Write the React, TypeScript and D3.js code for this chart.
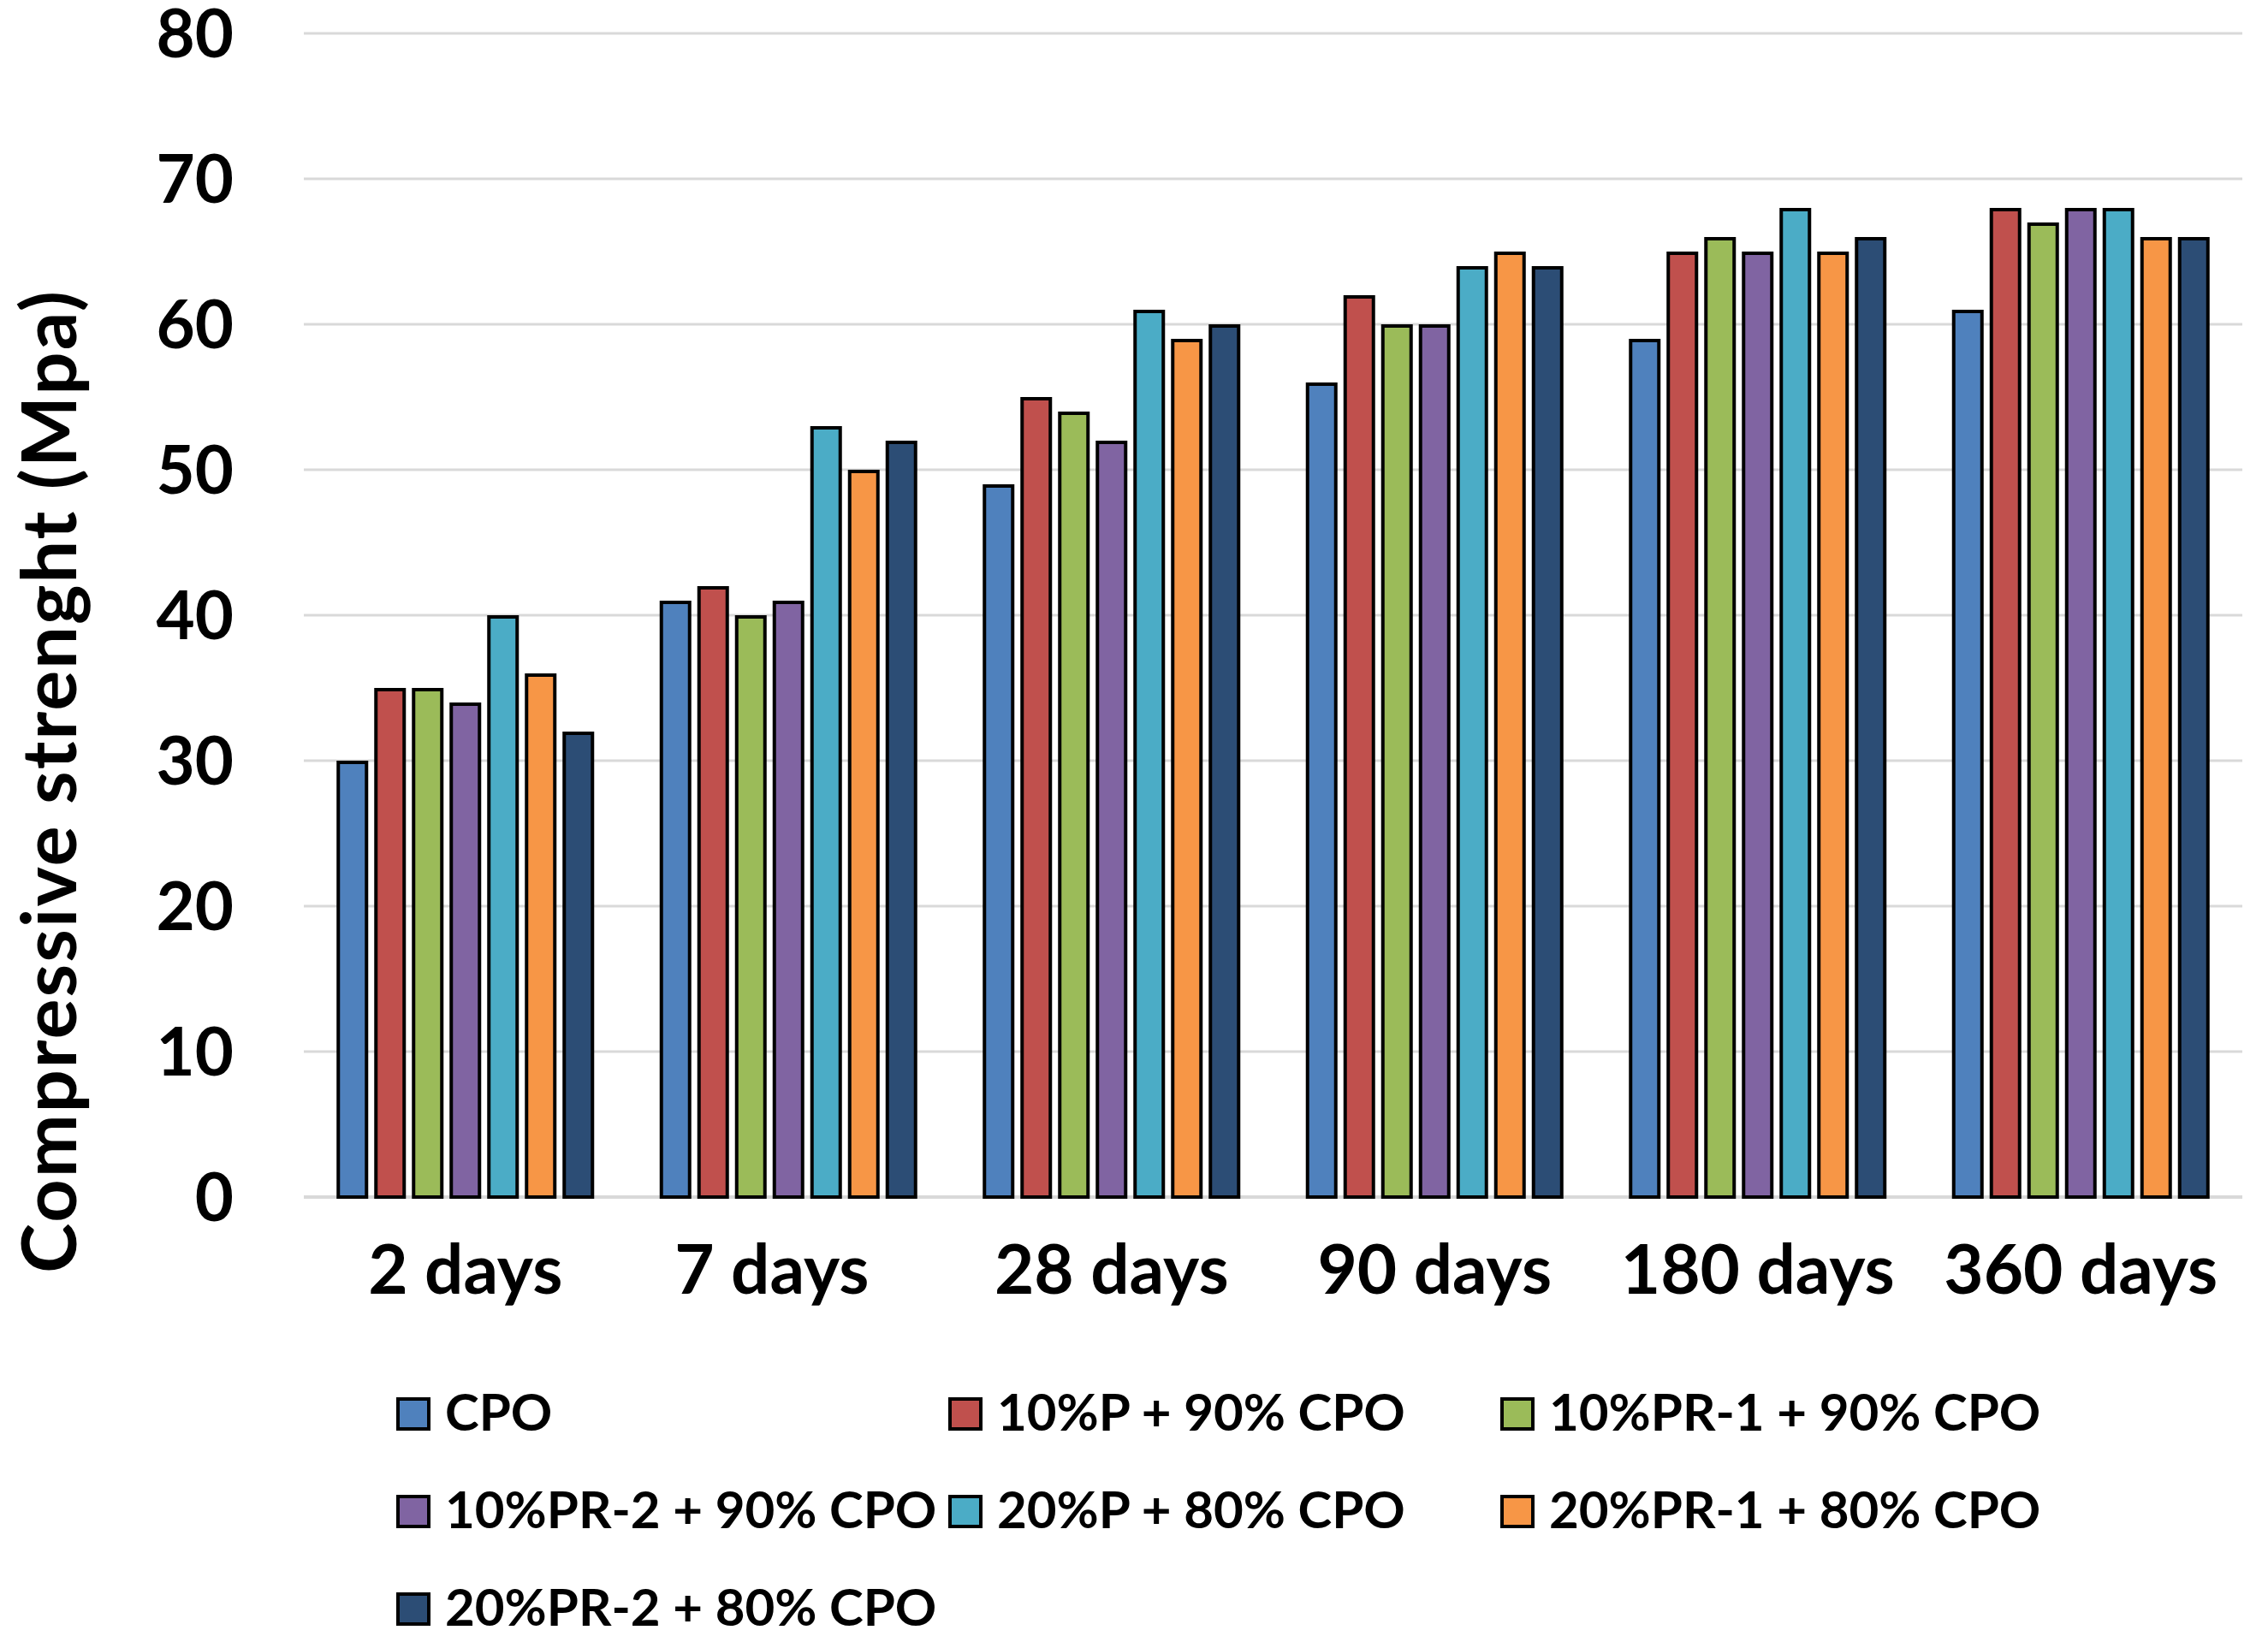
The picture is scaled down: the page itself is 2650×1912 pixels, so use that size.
import * as d3 from "d3";

// ages of the specimens
const days = ["2 days", "7 days", "28 days", "90 days", "180 days", "360 days"];
// axis labels as typed in the sheet (the 7-day one carries trailing spaces)
const dayLabels = ["2 days", "7 days\u00A0\u00A0", "28 days", "90 days", "180 days", "360 days"];

// mixes, in legend order
const mixes = [
  "CPO",
  "10%P + 90% CPO",
  "10%PR-1 + 90% CPO",
  "10%PR-2 + 90% CPO",
  "20%P + 80% CPO",
  "20%PR-1 + 80% CPO",
  "20%PR-2 + 80% CPO",
];

// compressive strength (MPa), one array per mix, values per age
const cpo = [30, 41, 49, 56, 59, 61];
const p10 = [35, 42, 55, 62, 65, 68];
const pr1_10 = [35, 40, 54, 60, 66, 67];
const pr2_10 = [34, 41, 52, 60, 65, 68];
const p20 = [40, 53, 61, 64, 68, 68];
const pr1_20 = [36, 50, 59, 65, 65, 66];
const pr2_20 = [32, 52, 60, 64, 66, 66];

const yTicks = [0, 10, 20, 30, 40, 50, 60, 70, 80];

const colors = ["#4F81BD", "#C0504D", "#9BBB59", "#8064A2", "#4BACC6", "#F79646", "#2C4D75"];

const W = 2650;
const H = 1912;
const FONT = "Lato, 'Open Sans', sans-serif";

export default function App() {
  const series = [cpo, p10, pr1_10, pr2_10, p20, pr1_20, pr2_20];

  const x = d3.scaleBand().domain(days).range([355, 2620]).padding(0);
  const y = d3.scaleLinear().domain([0, 80]).range([1399, 39]);

  // bars inside a group: 44px step, centered in the band
  const groupW = 44 * mixes.length;
  const inner = d3
    .scaleBand()
    .domain(mixes)
    .range([(x.bandwidth() - groupW) / 2, (x.bandwidth() + groupW) / 2])
    .paddingInner(7 / 44)
    .paddingOuter(3.5 / 44);

  const stroke = 4;

  // legend grid (3 columns)
  const legendCols = [463, 1108, 1753];
  const legendRows = [1672, 1786, 1900];

  return (
    <svg
      width={W}
      height={H}
      style={{ position: "absolute", left: 0, top: 0, background: "#fff" }}
      fontFamily={FONT}
      fontWeight="bold"
    >
      <rect x={0} y={0} width={W} height={H} fill="#fff" />

      {/* gridlines */}
      {yTicks.map((t) => (
        <line
          key={"g" + t}
          x1={355}
          x2={2620}
          y1={y(t)}
          y2={y(t)}
          stroke="#d9d9d9"
          strokeWidth={t === 0 ? 4 : 3}
        />
      ))}

      {/* y tick labels */}
      {yTicks.map((t) => (
        <text key={"t" + t} x={273} y={y(t) + 28} textAnchor="end" fontSize={78} fill="#000">
          {t}
        </text>
      ))}

      {/* bars */}
      {days.map((d, i) => (
        <g key={d} transform={`translate(${x(d)},0)`}>
          {mixes.map((m, j) => {
            const v = series[j][i];
            const bx = (inner(m) || 0) + stroke / 2;
            const bw = inner.bandwidth() - stroke;
            return (
              <rect
                key={m}
                x={bx}
                y={y(v) + stroke / 2}
                width={bw}
                height={y(0) - y(v) - stroke / 2}
                fill={colors[j]}
                stroke="#000"
                strokeWidth={stroke}
              />
            );
          })}
        </g>
      ))}

      {/* x labels */}
      {days.map((d, i) => (
        <text
          key={"x" + d}
          x={(x(d) || 0) + x.bandwidth() / 2}
          y={1512}
          textAnchor="middle"
          fontSize={80}
          fill="#000"
          style={{ whiteSpace: "pre" }}
        >
          {dayLabels[i]}
        </text>
      ))}

      {/* y title */}
      <text
        transform="translate(89,914) rotate(-90)"
        textAnchor="middle"
        fontSize={88}
        fill="#000"
        textLength={1148}
        lengthAdjust="spacing"
      >
        Compressive strenght (Mpa)
      </text>

      {/* legend */}
      {mixes.map((m, j) => {
        const lx = legendCols[j % 3];
        const ly = legendRows[Math.floor(j / 3)];
        return (
          <g key={"l" + m}>
            <rect
              x={lx + 2}
              y={ly - 37}
              width={36}
              height={35}
              fill={colors[j]}
              stroke="#000"
              strokeWidth={4}
            />
            <text x={lx + 57} y={ly} fontSize={60} fill="#000">
              {m}
            </text>
          </g>
        );
      })}
    </svg>
  );
}
